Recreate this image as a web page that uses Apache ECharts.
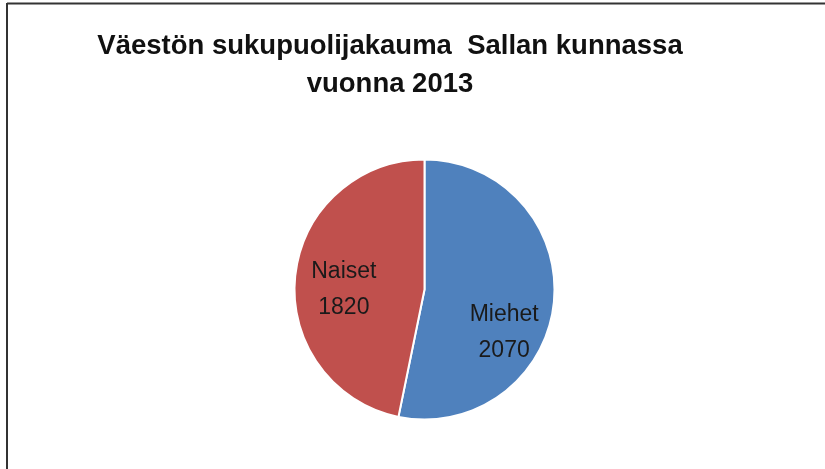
<!DOCTYPE html>
<html>
<head>
<meta charset="utf-8">
<script src="https://cdn.jsdelivr.net/npm/echarts@6/dist/echarts.min.js"></script>
<style>
html,body{margin:0;padding:0;background:#fff;}
#chart{width:825px;height:469px;}
</style>
</head>
<body>
<div id="chart"></div>
<script>
var titleLines = ['Väestön sukupuolijakauma  Sallan kunnassa', 'vuonna 2013'];
var categories = ['Miehet', 'Naiset'];
var values = [2070, 1820];
var colors = ['#4F81BD', '#C0504D'];
var labelShift = [[12, 36], [-13, 7]];

var chart = echarts.init(document.getElementById('chart'));
chart.setOption({
  backgroundColor: '#ffffff',
  animation: false,
  title: {
    text: titleLines.join('\n'),
    left: 385,
    top: 22,
    textAlign: 'center',
    textStyle: {
      fontFamily: 'Liberation Sans',
      fontWeight: 'bold',
      fontSize: 27.5,
      lineHeight: 38,
      color: '#111111'
    }
  },
  graphic: [
    {type: 'line', shape: {x1: 7, y1: 3.5, x2: 825, y2: 3.5}, style: {stroke: '#333', lineWidth: 2}},
    {type: 'line', shape: {x1: 7, y1: 3, x2: 7, y2: 469}, style: {stroke: '#333', lineWidth: 2}}
  ],
  series: [{
    type: 'pie',
    center: [424.5, 289.5],
    radius: 130,
    startAngle: 90,
    clockwise: true,
    silent: true,
    itemStyle: {borderColor: '#ffffff', borderWidth: 2},
    label: {
      show: true,
      position: 'inside',
      formatter: '{b}\n{c}',
      fontFamily: 'Liberation Sans',
      fontSize: 23,
      lineHeight: 36,
      color: '#1a1a1a'
    },
    labelLine: {show: false},
    labelLayout: function (p) {
      return {dx: labelShift[p.dataIndex][0], dy: labelShift[p.dataIndex][1]};
    },
    data: categories.map(function (c, i) {
      return {name: c, value: values[i], itemStyle: {color: colors[i]}};
    })
  }]
});
</script>
</body>
</html>
